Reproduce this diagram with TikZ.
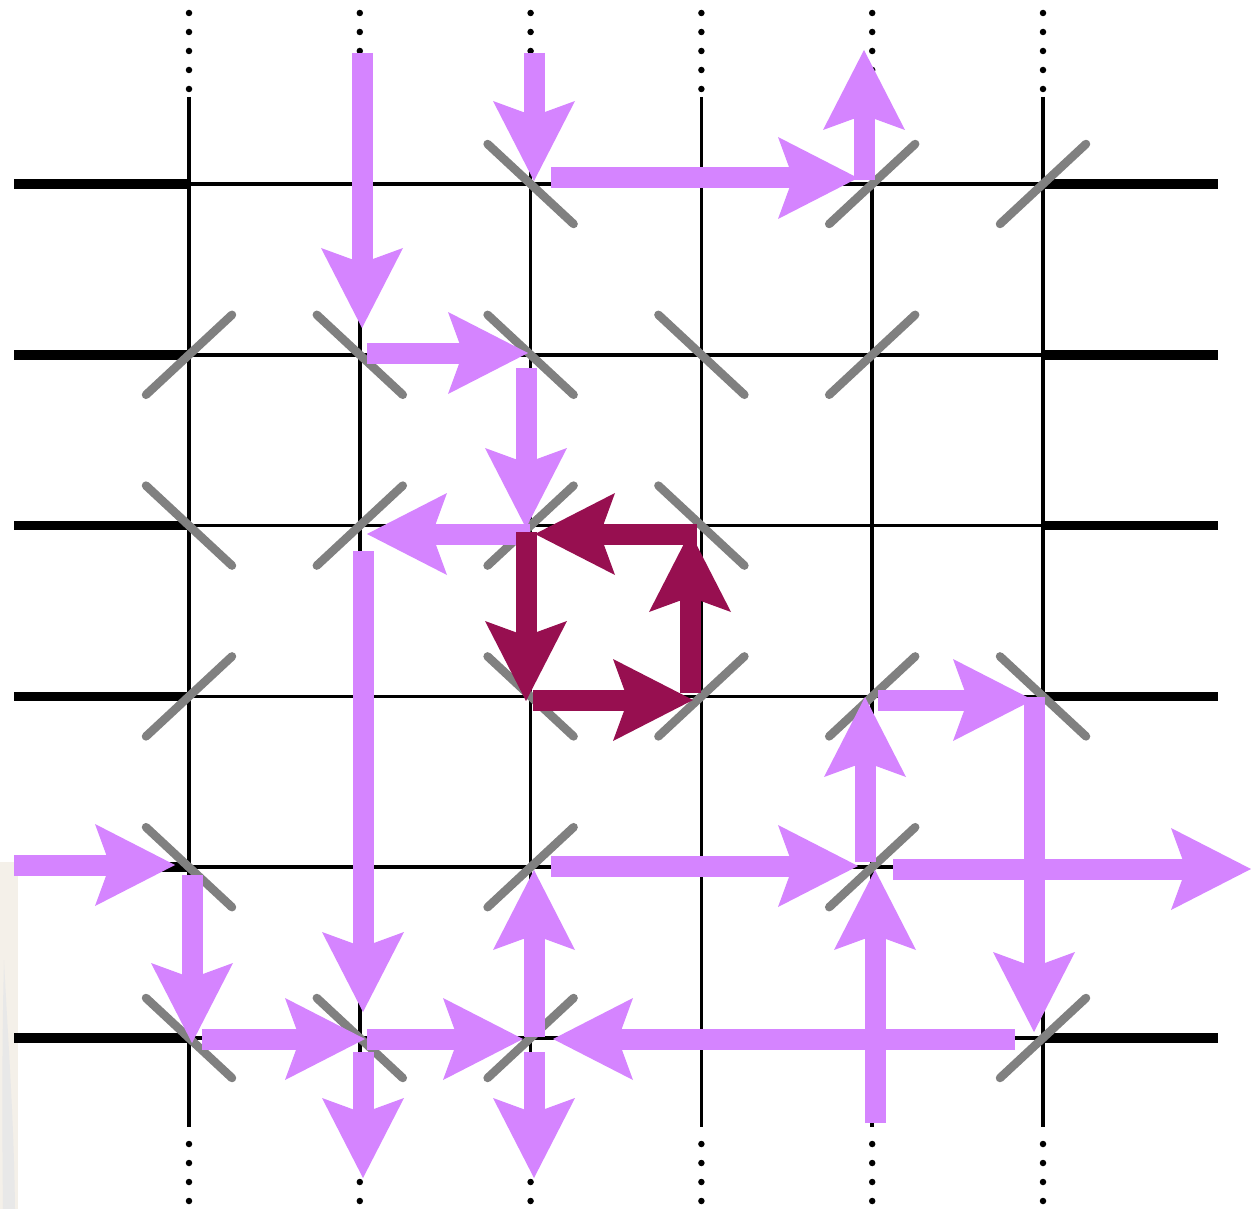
\documentclass[tikz,border=0pt]{standalone}
\usetikzlibrary{arrows.meta}
\definecolor{beam}{HTML}{D584FF}
\definecolor{loopc}{HTML}{970F50}
\definecolor{mirrorc}{HTML}{808080}
\definecolor{paper}{HTML}{F4F0E9}
\begin{document}
\begin{tikzpicture}[x=1pt,y=-1pt,
  beamarrow/.style={draw=beam, line width=21pt,
    -{Stealth[length=80pt,width=82pt,inset=15pt,line width=0pt]}},
  looparrow/.style={beamarrow, draw=loopc},
  gridthin/.style={draw=black, line width=3.5pt},
  gridthick/.style={draw=black, line width=9.5pt},
  dotline/.style={draw=black, line width=6.5pt, line cap=round, dash pattern=on 0pt off 19pt},
  mirror/.style={draw=mirrorc, line width=8.5pt, line cap=round}
]
\useasboundingbox (0,0) rectangle (1251,1209);
\fill[white] (0,0) rectangle (1251,1209);
% scanned paper strip at the left edge
\fill[paper] (0,862) rectangle (18,1209);
\fill[gray!18] (4,960) .. controls (8,1040) and (14,1120) .. (15,1209) -- (3,1209) .. controls (2,1120) and (2,1040) .. (4,960) -- cycle;

% grid
\foreach \i in {0,...,5}{
  \pgfmathsetmacro{\gx}{189+170.8*\i}
  \draw[gridthin] (\gx,97) -- (\gx,1127);
  \draw[dotline] (\gx,13) -- (\gx,90);
  \draw[dotline] (\gx,1144) -- (\gx,1202);
}
\foreach \j in {0,...,5}{
  \pgfmathsetmacro{\gy}{184+170.8*\j}
  \draw[gridthin] (14,\gy) -- (1218,\gy);
  \draw[gridthick] (14,\gy) -- (189,\gy);
  \draw[gridthick] (1043,\gy) -- (1218,\gy);
}

% mirrors "\"
\foreach \i/\j in {2/0,1/1,2/1,3/1,0/2,3/2,2/3,5/3,0/4,0/5,1/5}{
  \pgfmathsetmacro{\cx}{189+170.8*\i}
  \pgfmathsetmacro{\cy}{184+170.8*\j}
  \draw[mirror] (\cx-43,\cy-40) -- (\cx+43,\cy+40);
}
% mirrors "/"
\foreach \i/\j in {4/0,5/0,0/1,4/1,1/2,2/2,0/3,3/3,4/3,2/4,4/4,2/5,5/5}{
  \pgfmathsetmacro{\cx}{189+170.8*\i}
  \pgfmathsetmacro{\cy}{184+170.8*\j}
  \draw[mirror] (\cx-43,\cy+40) -- (\cx+43,\cy-40);
}

% light beams
\draw[beamarrow] (362,53) -- (362,328);
\draw[beamarrow] (367,353) -- (528,353);
\draw[beamarrow] (526,368) -- (526,528);
\draw[beamarrow] (530,534) -- (367,534);
\draw[beamarrow] (363,551) -- (363,1012);
\draw[beamarrow] (14,865) -- (175,865);
\draw[beamarrow] (192,875) -- (192,1043);
\draw[beamarrow] (202,1039) -- (365,1039);
\draw[beamarrow] (367,1039) -- (523,1039);
\draw[beamarrow] (363,1052) -- (363,1178);
\draw[beamarrow] (1015,1039) -- (553,1039);
\draw[beamarrow] (534,1037) -- (534,870);
\draw[beamarrow] (534,1052) -- (534,1178);
\draw[beamarrow] (551,866) -- (858,866);
\draw[beamarrow] (875,1123) -- (875,870);
\draw[beamarrow] (893,869) -- (1251,869);
\draw[beamarrow] (1034,697) -- (1034,1032);
\draw[beamarrow] (865,862) -- (865,697);
\draw[beamarrow] (878,700) -- (1033,700);
\draw[beamarrow] (534,53) -- (534,181);
\draw[beamarrow] (551,178) -- (858,178);
\draw[beamarrow] (864,180) -- (864,50);

% closed loop
\draw[looparrow] (697,534) -- (535,534);
\draw[looparrow] (526,532) -- (526,701);
\draw[looparrow] (533,700) -- (693,700);
\draw[looparrow] (690,693) -- (690,532);
\end{tikzpicture}
\end{document}
